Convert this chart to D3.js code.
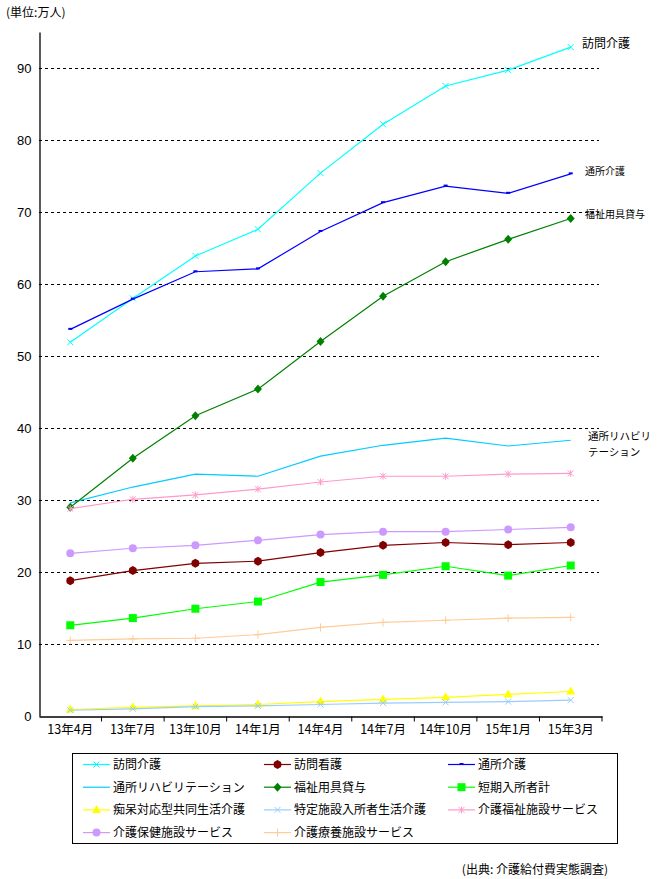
<!DOCTYPE html>
<html>
<head>
<meta charset="utf-8">
<script src="https://cdn.jsdelivr.net/npm/d3@7"></script>
<style>
  body { margin: 0; background: #fff; }
  text { font-family: "Noto Sans CJK JP", sans-serif; fill: #000; }
</style>
</head>
<body>
<script>
// chart data (単位: 万人)
var months = ["13年4月", "13年7月", "13年10月", "14年1月", "14年4月", "14年7月", "14年10月", "15年1月", "15年3月"];
var yTicks = [0, 10, 20, 30, 40, 50, 60, 70, 80, 90];

var houmonKaigo   = [51.9, 58.0, 63.9, 67.6, 75.4, 82.2, 87.5, 89.7, 92.9];
var houmonKango   = [18.8, 20.2, 21.2, 21.5, 22.7, 23.7, 24.1, 23.8, 24.1];
var tsushoKaigo   = [53.7, 57.9, 61.7, 62.1, 67.3, 71.3, 73.6, 72.6, 75.3];
var tsushoRiha    = [29.6, 31.8, 33.6, 33.3, 36.1, 37.6, 38.6, 37.5, 38.3];
var fukushiYogu   = [29.0, 35.8, 41.7, 45.4, 52.0, 58.3, 63.1, 66.2, 69.1];
var tankiNyusho   = [12.6, 13.6, 14.9, 15.9, 18.6, 19.6, 20.8, 19.5, 20.9];
var chihoKyodo    = [0.9, 1.2, 1.4, 1.6, 2.0, 2.3, 2.6, 3.0, 3.4];
var tokuteiShisetsu = [0.8, 1.0, 1.3, 1.4, 1.6, 1.8, 1.9, 2.0, 2.2];
var fukushiShisetsu = [28.8, 30.1, 30.7, 31.5, 32.5, 33.3, 33.3, 33.6, 33.7];
var hokenShisetsu = [22.6, 23.3, 23.7, 24.4, 25.2, 25.6, 25.6, 25.9, 26.2];
var ryoyoShisetsu = [10.5, 10.7, 10.8, 11.3, 12.3, 13.0, 13.3, 13.6, 13.7];

var series = [
  { name: "訪問介護", values: houmonKaigo, color: "#00ffff", marker: "x" },
  { name: "訪問看護", values: houmonKango, color: "#800000", marker: "dot" },
  { name: "通所介護", values: tsushoKaigo, color: "#0000ff", marker: "dash" },
  { name: "通所リハビリテーション", values: tsushoRiha, color: "#00ccff", marker: "none" },
  { name: "福祉用具貸与", values: fukushiYogu, color: "#008000", marker: "diamond" },
  { name: "短期入所者計", values: tankiNyusho, color: "#00ff00", marker: "square" },
  { name: "痴呆対応型共同生活介護", values: chihoKyodo, color: "#ffff00", marker: "triangle" },
  { name: "特定施設入所者生活介護", values: tokuteiShisetsu, color: "#99ccff", marker: "x" },
  { name: "介護福祉施設サービス", values: fukushiShisetsu, color: "#ff99cc", marker: "star" },
  { name: "介護保健施設サービス", values: hokenShisetsu, color: "#cc99ff", marker: "circle" },
  { name: "介護療養施設サービス", values: ryoyoShisetsu, color: "#ffcc99", marker: "plus" }
];

var svgWidth = 658;
var svgHeight = 879;
var margin = { top: 32, left: 39 };
var plotRight = 602;
var gridRight = 599;

var svg = d3.select("body").append("svg")
  .attr("width", svgWidth)
  .attr("height", svgHeight);

var x = d3.scaleBand().domain(months).range([margin.left, plotRight]);
var y = d3.scaleLinear().domain([0, 95]).range([716, margin.top]);

// gridlines
svg.append("g").selectAll("line")
  .data(yTicks.filter(d => d > 0))
  .enter().append("line")
  .attr("x1", margin.left).attr("x2", gridRight)
  .attr("y1", d => Math.round(y(d)) + 0.5).attr("y2", d => Math.round(y(d)) + 0.5)
  .attr("stroke", "#000").attr("stroke-dasharray", "3,3");

// y axis
var yAxis = svg.append("g")
  .attr("transform", `translate(${margin.left + 0.5},0)`)
  .call(d3.axisLeft(y).tickValues(yTicks).tickSize(0).tickPadding(8));
yAxis.select(".domain").attr("stroke", "#000").attr("stroke-width", 1.3);
yAxis.selectAll("text").style("font-size", "13px").style("font-family", "Arial, 'Liberation Sans', sans-serif");

// x axis
var xAxis = svg.append("g")
  .attr("transform", `translate(0,${Math.round(y(0)) + 0.5})`)
  .call(d3.axisBottom(x).tickSize(0).tickPadding(9));
xAxis.select(".domain").attr("stroke", "#000").attr("stroke-width", 1.3);
xAxis.selectAll("text").style("font-size", "12.5px");
xAxis.selectAll(".boundary")
  .data(months.map((m, i) => i + 1))
  .enter().append("line")
  .attr("x1", i => margin.left + i * x.step()).attr("x2", i => margin.left + i * x.step())
  .attr("y1", 0).attr("y2", 5)
  .attr("stroke", "#000");

// unit label
svg.append("text").attr("x", 6).attr("y", 17).style("font-size", "12px").text("(単位:万人)");

function drawMarker(g, type, color) {
  if (type === "x") {
    g.append("path").attr("d", "M-3,-3L3,3M-3,3L3,-3").attr("stroke", color).attr("fill", "none");
  } else if (type === "diamond") {
    g.append("path").attr("d", "M0,-4.5L4,0L0,4.5L-4,0Z").attr("fill", color);
  } else if (type === "dot") {
    g.append("path").attr("d", "M0,-4.5L3.5,-2.5L4,0L3.5,2.5L0,4.5L-3.5,2.5L-4,0L-3.5,-2.5Z").attr("fill", color);
  } else if (type === "dash") {
    g.append("rect").attr("x", -2).attr("y", -1.5).attr("width", 4).attr("height", 2).attr("fill", color);
  } else if (type === "square") {
    g.append("rect").attr("x", -4).attr("y", -4).attr("width", 8).attr("height", 8).attr("fill", color);
  } else if (type === "triangle") {
    g.append("path").attr("d", "M0,-5L4.5,3L-4.5,3Z").attr("fill", color);
  } else if (type === "star") {
    g.append("path").attr("d", "M-3,-3L3,3M-3,3L3,-3M0,-3.5L0,3.5").attr("stroke", color).attr("fill", "none");
  } else if (type === "circle") {
    g.append("circle").attr("r", 4).attr("fill", color);
  } else if (type === "plus") {
    g.append("path").attr("d", "M-4,0L4,0M0,-4L0,4").attr("stroke", color).attr("fill", "none");
  }
}

var line = d3.line()
  .x((d, i) => x(months[i]) + x.bandwidth() / 2)
  .y(d => y(d));

series.forEach(function(s) {
  svg.append("path")
    .datum(s.values)
    .attr("fill", "none")
    .attr("stroke", s.color)
    .attr("stroke-width", 1.2)
    .attr("d", line);
  s.values.forEach(function(v, i) {
    var g = svg.append("g")
      .attr("transform", `translate(${x(months[i]) + x.bandwidth() / 2},${y(v)})`);
    drawMarker(g, s.marker, s.color);
  });
});

// end labels
var endLabels = [
  { text: "訪問介護", size: 12, x: 582, y: 48 },
  { text: "通所介護", size: 10, x: 585, y: 175 },
  { text: "福祉用具貸与", size: 10, x: 585, y: 218 },
  { text: "通所リハビリ", size: 10.5, x: 588, y: 440 },
  { text: "テーション", size: 10.5, x: 588, y: 456 }
];
endLabels.forEach(function(l) {
  svg.append("text").attr("x", l.x).attr("y", l.y).style("font-size", l.size + "px").text(l.text);
});

// legend
var legend = svg.append("g");
legend.append("rect")
  .attr("x", 72.5).attr("y", 753.5).attr("width", 545).attr("height", 90)
  .attr("fill", "#fff").attr("stroke", "#000");
var colX = [83, 264, 448];
series.forEach(function(s, i) {
  var cx = colX[i % 3];
  var cy = 764.5 + Math.floor(i / 3) * 22.7;
  var g = legend.append("g").attr("transform", `translate(${cx},${cy})`);
  g.append("line").attr("x1", 0).attr("x2", 27).attr("stroke", s.color).attr("stroke-width", 1.2);
  var m = g.append("g").attr("transform", "translate(13.5,0)");
  drawMarker(m, s.marker, s.color);
  g.append("text").attr("x", 30).attr("y", 4.5).style("font-size", "12px").text(s.name);
});

// source
svg.append("text").attr("x", 608).attr("y", 874).attr("text-anchor", "end")
  .style("font-size", "12px").text("(出典: 介護給付費実態調査)");
</script>
</body>
</html>
